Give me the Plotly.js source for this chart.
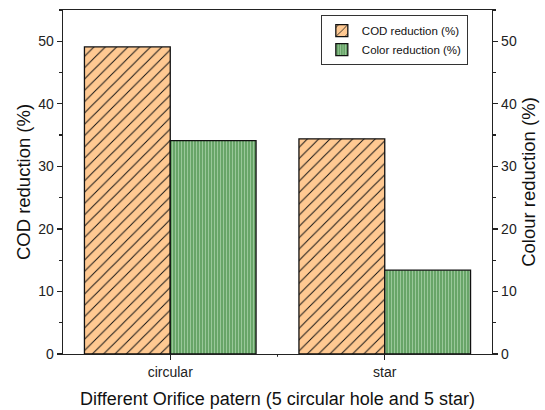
<!DOCTYPE html>
<html>
<head>
<meta charset="utf-8">
<script src="https://cdn.plot.ly/plotly-3.0.1.min.js"></script>
<style>html,body{margin:0;padding:0;background:#fff;}#chart{width:545px;height:410px;}</style>
</head>
<body>
<div id="chart"></div>
<script>
const categories = ["circular", "star"];
const codReduction = [49.1, 34.4];
const colorReduction = [34.1, 13.4];
const seriesNames = ["COD reduction (%)", "Color reduction (%)"];

const FAM = "Arial, Liberation Sans, sans-serif";
const axisFont = {family: FAM, size: 14, color: "#222"};
const titleFont = {family: FAM, size: 18.5, color: "#111"};

const traces = [
  {
    type: "bar", x: categories, y: codReduction, name: seriesNames[0],
    offsetgroup: "1", yaxis: "y",
    marker: {color: "#FFC992", line: {color: "#111", width: 1.3},
      pattern: {shape: "/", fgcolor: "#111", bgcolor: "#FFC992", size: 8, solidity: 0.12}}
  },
  {
    type: "bar", x: categories, y: colorReduction, name: seriesNames[1],
    offsetgroup: "2", yaxis: "y2",
    marker: {color: "#68A568", line: {color: "#111", width: 1.3},
      pattern: {shape: "|", fgcolor: "#9FCC9F", bgcolor: "#68A568", size: 3, solidity: 0.3}}
  }
];

const layout = {
  width: 545, height: 410,
  margin: {l: 63, r: 53, t: 10, b: 56},
  paper_bgcolor: "#fff", plot_bgcolor: "#fff",
  barmode: "group", bargap: 0.2, bargroupgap: 0,
  showlegend: true,
  legend: {x: 0.601, y: 0.985, xanchor: "left", yanchor: "top",
    bgcolor: "#fff", bordercolor: "#333", borderwidth: 1,
    font: {family: FAM, size: 11.5, color: "#111"},
    tracegroupgap: 0, itemwidth: 30},
  xaxis: {
    type: "category", range: [-0.5, 1.5],
    showline: true, linecolor: "#222", linewidth: 1.3, mirror: true,
    ticks: "outside", ticklen: 5, tickcolor: "#222", tickwidth: 1.2,
    showgrid: false, zeroline: false, tickfont: axisFont,
    title: {text: "Different Orifice patern (5 circular hole and 5 star)", font: {family: FAM, size: 18, color: "#111"}, standoff: 13}
  },
  yaxis: {
    range: [0, 55], dtick: 10, tick0: 0,
    showline: true, linecolor: "#222", linewidth: 1.3,
    ticks: "outside", ticklen: 5, tickcolor: "#222", tickwidth: 1.2,
    minor: {dtick: 5, ticks: "outside", ticklen: 3, tickcolor: "#222", showgrid: false},
    showgrid: false, zeroline: false, tickfont: axisFont,
    title: {text: "COD reduction (%)", font: titleFont, standoff: 2}
  },
  yaxis2: {
    overlaying: "y", side: "right", range: [0, 55], dtick: 10, tick0: 0,
    showline: true, linecolor: "#222", linewidth: 1.3,
    ticks: "outside", ticklen: 5, tickcolor: "#222", tickwidth: 1.2,
    minor: {dtick: 5, ticks: "outside", ticklen: 3, tickcolor: "#222", showgrid: false},
    showgrid: false, zeroline: false, tickfont: axisFont,
    title: {text: "Colour reduction (%)", font: titleFont, standoff: 6}
  },
  shapes: [
    {type: "line", xref: "x", yref: "paper", x0: 0.5, x1: 0.5, y0: 0, y1: -0.008,
     line: {color: "#222", width: 1}}
  ]
};

Plotly.newPlot("chart", traces, layout, {displayModeBar: false, staticPlot: true});
</script>
</body>
</html>
